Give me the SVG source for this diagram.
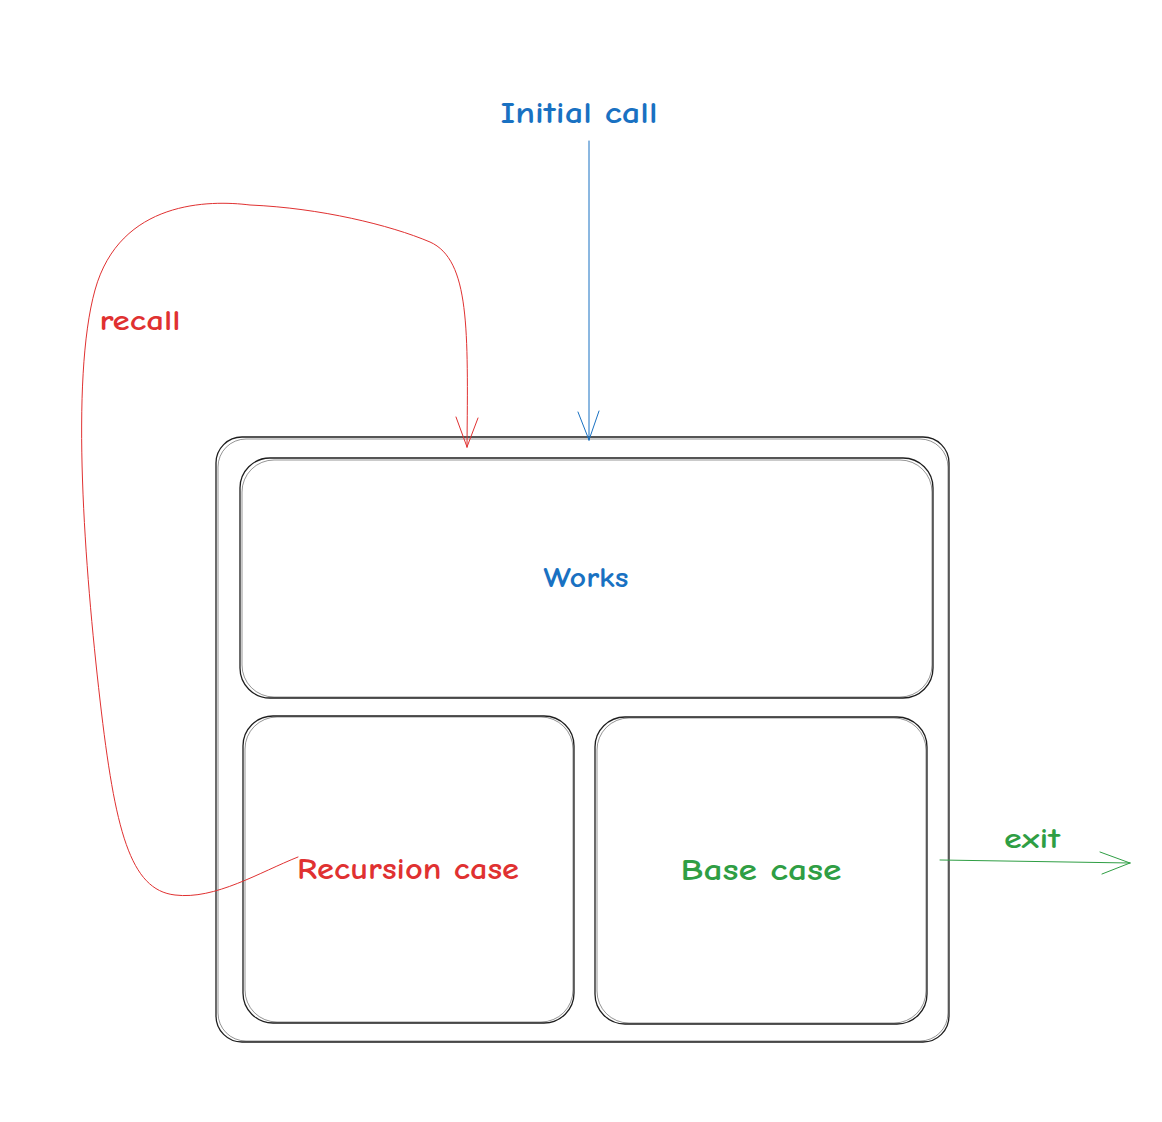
<svg xmlns="http://www.w3.org/2000/svg" width="1162" height="1122" viewBox="0 0 1162 1122">
<style>
.box{fill:none;stroke:#1e1e1e;stroke-width:1.3}
.box2{fill:none;stroke:#1e1e1e;stroke-width:0.8;opacity:0.6}
.t{font-family:"Comic Neue","Liberation Sans",sans-serif;font-weight:bold;text-anchor:middle;dominant-baseline:central}
.blue{fill:#1971c2}.red{fill:#e03131}.green{fill:#2f9e44}
.c{fill:none;stroke-width:1;stroke-linecap:round;stroke-linejoin:round}
</style>
<rect width="1162" height="1122" fill="#ffffff"/>
<g id="outer">
<rect class="box" x="216" y="437" width="733" height="605" rx="26"/>
<rect class="box2" x="218" y="439" width="730" height="602" rx="28"/>
</g>
<g id="works">
<rect class="box" x="240" y="458" width="693" height="240" rx="30"/>
<rect class="box2" x="242" y="460" width="690" height="237" rx="32"/>
<text class="t blue" x="586" y="578" font-size="28" textLength="85" lengthAdjust="spacingAndGlyphs">Works</text>
</g>
<g id="recursion">
<rect class="box" x="243" y="716" width="331" height="307" rx="30"/>
<rect class="box2" x="245" y="717" width="328" height="305" rx="32"/>
<text class="t red" x="408" y="869" font-size="31" textLength="222" lengthAdjust="spacingAndGlyphs">Recursion case</text>
</g>
<g id="base">
<rect class="box" x="595" y="717" width="332" height="307" rx="30"/>
<rect class="box2" x="597" y="718" width="329" height="305" rx="32"/>
<text class="t green" x="761" y="870" font-size="31" textLength="161" lengthAdjust="spacingAndGlyphs">Base case</text>
</g>
<g id="labels">
<text class="t blue" x="579" y="113" font-size="31" textLength="157" lengthAdjust="spacingAndGlyphs">Initial call</text>
<text class="t red" x="140" y="320" font-size="29" textLength="81" lengthAdjust="spacingAndGlyphs">recall</text>
<text class="t green" x="1032" y="838" font-size="29" textLength="56" lengthAdjust="spacingAndGlyphs">exit</text>
</g>
<g id="connectors">
<path class="c" stroke="#1971c2" d="M589,141 L589,440 M578,412 L589,440 M599,411 L589,440"/>
<path class="c" stroke="#e03131" d="M298,857 C260,872 215,900 175,895 C130,890 115,830 100,700 C85,570 70,380 95,290 C120,200 210,200 250,205 C320,208 390,225 430,242 C470,260 468,330 467,447 M456,417 L467,447 M478,418 L467,447"/>
<path class="c" stroke="#2f9e44" d="M940,860 L1130,863 M1100,852 L1130,863 M1102,874 L1130,863"/>
</g>
</svg>
